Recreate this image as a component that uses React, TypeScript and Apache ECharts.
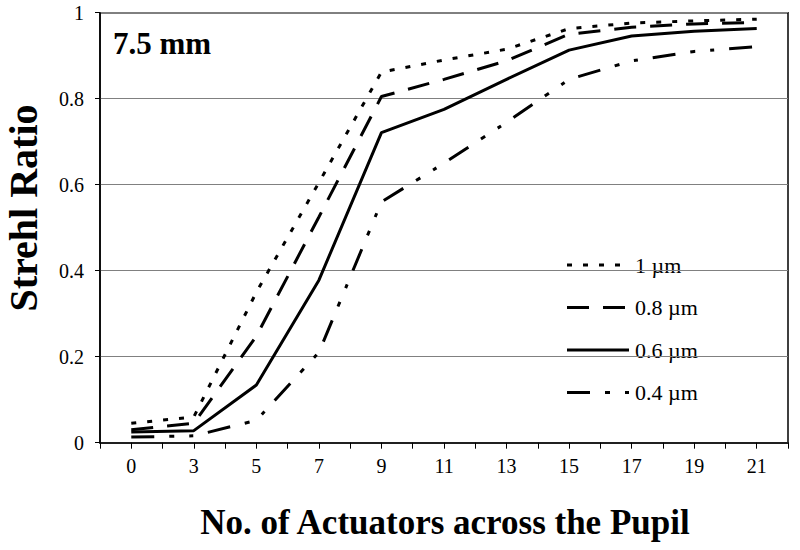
import React, { useEffect, useRef } from "react";
import * as echarts from "echarts";

const categories = ["0", "3", "5", "7", "9", "11", "13", "15", "17", "19", "21"];
const seriesNames = ["1 µm", "0.8 µm", "0.6 µm", "0.4 µm"];
const values1um = [0.045, 0.06, 0.35, 0.605, 0.862, 0.89, 0.915, 0.963, 0.976, 0.981, 0.985];
const values08um = [0.03, 0.045, 0.248, 0.525, 0.805, 0.845, 0.888, 0.95, 0.966, 0.974, 0.977];
const values06um = [0.025, 0.028, 0.134, 0.378, 0.721, 0.775, 0.845, 0.913, 0.946, 0.957, 0.963];
const values04um = [0.013, 0.016, 0.052, 0.21, 0.56, 0.65, 0.745, 0.845, 0.888, 0.91, 0.921];
const yTicks = [0, 0.2, 0.4, 0.6, 0.8, 1];
const panelLabel = "7.5 mm";
const xTitle = "No. of Actuators across the Pupil";
const yTitle = "Strehl Ratio";

const SERIF = "'Liberation Serif', 'Times New Roman', serif";

export default function App() {
  const ref = useRef<HTMLDivElement>(null);

  useEffect(() => {
    document.body.style.margin = "0";
    if (!ref.current) return;
    const chart = echarts.init(ref.current, undefined, { renderer: "svg" });
    const allValues = [values1um, values08um, values06um, values04um];
    const dashTypes: any[] = [[5, 11], [22, 14], "solid", [23, 15, 5, 15, 4, 15]];
    const dashArrays: any[] = [[5, 11], [22, 14], null, [23, 15, 5, 15, 4, 15]];

    const legendGraphics: any[] = [];
    seriesNames.forEach((name, k) => {
      const cy = 265 + k * 42.5;
      legendGraphics.push({
        type: "line",
        shape: { x1: 567, y1: cy, x2: 629, y2: cy },
        style: {
          stroke: "#000",
          lineWidth: 3,
          lineDash: dashArrays[k] || undefined,
          lineCap: "butt",
        },
      });
      legendGraphics.push({
        type: "text",
        x: 635,
        y: cy,
        style: {
          text: name,
          fontFamily: SERIF,
          fontSize: 22,
          fill: "#000",
          align: "left",
          verticalAlign: "middle",
        },
      });
    });

    chart.setOption({
      animation: false,
      backgroundColor: "#ffffff",
      grid: {
        left: 100,
        right: 12,
        top: 12.7,
        bottom: 107.3,
        show: true,
        borderColor: "#000",
        borderWidth: 1.5,
        backgroundColor: "transparent",
      },
      xAxis: {
        type: "value",
        min: -0.5,
        max: 10.5,
        interval: 0.5,
        axisLine: { show: true, onZero: false, lineStyle: { color: "#000", width: 1.5 } },
        axisTick: { show: true, length: 6, lineStyle: { color: "#000", width: 1 } },
        splitLine: { show: false },
        axisLabel: {
          margin: 13,
          fontFamily: SERIF,
          fontSize: 20,
          color: "#000",
          showMinLabel: true,
          showMaxLabel: true,
          formatter: (v: number) => {
            const r = Math.round(v * 2) / 2;
            return Number.isInteger(r) && categories[r] !== undefined ? categories[r] : "";
          },
        },
      },
      yAxis: {
        type: "value",
        min: yTicks[0],
        max: yTicks[yTicks.length - 1],
        interval: 0.2,
        axisLine: { show: true, onZero: false, lineStyle: { color: "#000", width: 1.5 } },
        axisTick: { show: true, length: 5, lineStyle: { color: "#000", width: 1 } },
        splitLine: { show: true, lineStyle: { color: "#808080", width: 1 } },
        axisLabel: {
          margin: 16,
          fontFamily: SERIF,
          fontSize: 20,
          color: "#000",
        },
      },
      graphic: [
        {
          type: "text",
          left: 113,
          top: 28,
          style: {
            text: panelLabel,
            fontFamily: SERIF,
            fontWeight: "bold",
            fontSize: 31,
            fill: "#000",
          },
        },
        {
          type: "text",
          x: 445,
          y: 522,
          style: {
            text: xTitle,
            fontFamily: SERIF,
            fontWeight: "bold",
            fontSize: 35,
            fill: "#000",
            align: "center",
            verticalAlign: "middle",
          },
        },
        {
          type: "text",
          x: 23,
          y: 208,
          rotation: Math.PI / 2,
          style: {
            text: yTitle,
            fontFamily: SERIF,
            fontWeight: "bold",
            fontSize: 40,
            fill: "#000",
            align: "center",
            verticalAlign: "middle",
          },
        },
        ...legendGraphics,
      ],
      series: allValues.map((vals, k) => ({
        name: seriesNames[k],
        type: "line",
        symbol: "none",
        data: vals.map((v, i) => [i, v]),
        lineStyle: { color: "#000", width: 3, type: dashTypes[k], cap: "butt" },
        itemStyle: { color: "#000" },
      })),
    });

    return () => chart.dispose();
  }, []);

  return <div ref={ref} style={{ width: 800, height: 550 }} />;
}
